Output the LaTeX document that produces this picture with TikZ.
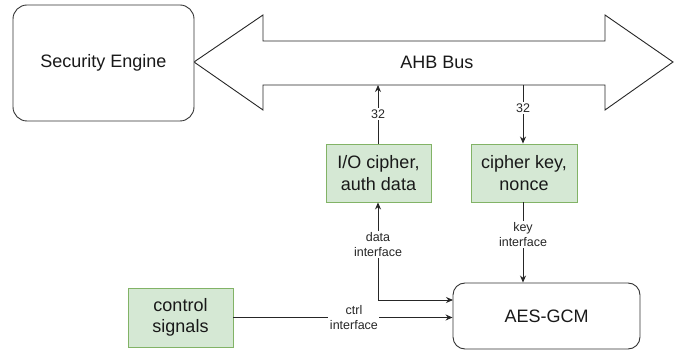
\documentclass[tikz,border=0pt]{standalone}
\usepackage{fontspec}
\setmainfont{Liberation Sans}
\usetikzlibrary{arrows.meta}
\definecolor{gfill}{HTML}{D5E8D4}
\definecolor{gline}{HTML}{82B366}
\begin{document}
\begin{tikzpicture}[x=1pt,y=-1pt,
  big/.style={font=\fontsize{18}{21.6}\selectfont, align=center, text=black!90},
  small/.style={font=\fontsize{12.5}{14.5}\selectfont, align=center, fill=white, inner sep=1.5pt, text=black!85},
  whitebox/.style={big, draw=black!80, line width=0.9pt, rounded corners=14pt, fill=white},
  greenbox/.style={big, draw=gline, fill=gfill, line width=0.9pt},
  conn/.style={line width=0.9pt, draw=black!85, -{Stealth[length=7pt,width=6pt]}},
  bicon/.style={line width=0.9pt, draw=black!85, {Stealth[length=7pt,width=6pt]}-{Stealth[length=7pt,width=6pt]}}
]
\useasboundingbox (0,0) rectangle (680,352);

% AHB bus double arrow
\draw[line width=0.9pt, draw=black!85, fill=white]
  (194,62) -- (263,15) -- (263,41) -- (605,41) -- (605,15) -- (673,62)
  -- (605,110) -- (605,85) -- (263,85) -- (263,110) -- cycle;
\node[big] (bus) at (437,62) {AHB Bus};
\coordinate (busA) at (378,85);
\coordinate (busB) at (523,85);

\node[whitebox, minimum width=181pt, minimum height=116pt] (se) at (103.5,63) {Security Engine};
\node[greenbox, minimum width=105pt, minimum height=58pt] (io) at (378.5,173) {I/O cipher,\\auth data};
\node[greenbox, minimum width=106pt, minimum height=58pt] (ck) at (524,173) {cipher key,\\nonce};
\node[greenbox, minimum width=105pt, minimum height=59pt] (cs) at (180.5,317.5) {control\\signals};
\node[whitebox, minimum width=187pt, minimum height=66pt, rounded corners=12pt] (aes) at (546.5,316) {AES-GCM};

\coordinate (dcorner) at (378,300);
\coordinate (dend) at (453,300);

\draw[conn] (io.north -| busA) -- (busA) node[small, pos=0.5] {32};
\draw[conn] (busB) -- (ck.north -| busB) node[small, pos=0.4] {32};
\draw[conn] (ck.south -| busB) -- (aes.north -| busB) node[small, pos=0.4] {key\\interface};
\draw[bicon] (io.south -| busA) -- (dcorner) node[small, pos=0.43] {data\\interface} -- (dend);
\draw[conn] (cs.east) -- (cs.east -| aes.west) node[small, pos=0.55] {ctrl\\interface};
\end{tikzpicture}
\end{document}
